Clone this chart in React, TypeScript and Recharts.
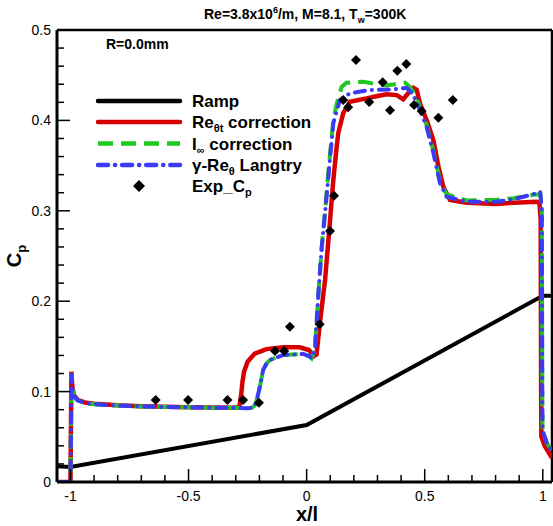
import React from 'react';
import {
  ComposedChart,
  Line,
  Scatter,
  XAxis,
  YAxis,
  ReferenceLine,
  Legend,
  Customized,
} from 'recharts';

// ---------- data ----------
const rampData = [
  { x: -1.057, y: 0.0175 },
  { x: -1.0, y: 0.0166 },
  { x: 0.0, y: 0.063 },
  { x: 1.0, y: 0.206 },
  { x: 1.039, y: 0.206 },
];

const reThetaData = [
  { x: -1.055, y: 0.0 }, { x: -1.0, y: 0.0 }, { x: -0.998, y: 0.06 }, { x: -0.996, y: 0.122 },
  { x: -0.992, y: 0.105 }, { x: -0.985, y: 0.096 }, { x: -0.97, y: 0.091 }, { x: -0.94, y: 0.088 },
  { x: -0.9, y: 0.0865 }, { x: -0.8, y: 0.0848 }, { x: -0.7, y: 0.0838 }, { x: -0.6, y: 0.0832 },
  { x: -0.5, y: 0.0828 }, { x: -0.4, y: 0.0824 }, { x: -0.3, y: 0.0822 }, { x: -0.285, y: 0.0835 },
  { x: -0.278, y: 0.095 }, { x: -0.272, y: 0.11 }, { x: -0.265, y: 0.122 }, { x: -0.25, y: 0.133 },
  { x: -0.22, y: 0.142 }, { x: -0.17, y: 0.147 }, { x: -0.1, y: 0.149 }, { x: -0.03, y: 0.149 },
  { x: 0.01, y: 0.146 }, { x: 0.03, y: 0.139 }, { x: 0.042, y: 0.141 }, { x: 0.056, y: 0.1755 },
  { x: 0.078, y: 0.2235 }, { x: 0.096, y: 0.279 }, { x: 0.113, y: 0.334 }, { x: 0.125, y: 0.365 },
  { x: 0.134, y: 0.386 }, { x: 0.155, y: 0.408 }, { x: 0.183, y: 0.4207 }, { x: 0.254, y: 0.4244 },
  { x: 0.3, y: 0.427 }, { x: 0.339, y: 0.4288 }, { x: 0.381, y: 0.428 }, { x: 0.409, y: 0.4234 },
  { x: 0.43, y: 0.43 }, { x: 0.452, y: 0.436 }, { x: 0.466, y: 0.434 }, { x: 0.48, y: 0.419 },
  { x: 0.508, y: 0.4004 }, { x: 0.537, y: 0.378 }, { x: 0.558, y: 0.349 }, { x: 0.579, y: 0.3267 },
  { x: 0.607, y: 0.312 }, { x: 0.678, y: 0.309 }, { x: 0.805, y: 0.3075 }, { x: 0.876, y: 0.309 },
  { x: 0.975, y: 0.31 }, { x: 0.986, y: 0.309 }, { x: 0.991, y: 0.29 }, { x: 0.992, y: 0.2 },
  { x: 0.993, y: 0.1 }, { x: 0.994, y: 0.05 }, { x: 1.008, y: 0.04 }, { x: 1.022, y: 0.034 },
  { x: 1.038, y: 0.027 },
];

const iInfData = [
  { x: -1.055, y: 0.0 }, { x: -1.0, y: 0.0 }, { x: -0.998, y: 0.06 }, { x: -0.996, y: 0.12 },
  { x: -0.992, y: 0.104 }, { x: -0.985, y: 0.095 }, { x: -0.97, y: 0.0905 }, { x: -0.94, y: 0.0875 },
  { x: -0.9, y: 0.086 }, { x: -0.8, y: 0.0845 }, { x: -0.7, y: 0.0835 }, { x: -0.6, y: 0.083 },
  { x: -0.5, y: 0.0826 }, { x: -0.4, y: 0.0822 }, { x: -0.3, y: 0.082 }, { x: -0.254, y: 0.0815 },
  { x: -0.232, y: 0.082 }, { x: -0.218, y: 0.085 }, { x: -0.21, y: 0.092 }, { x: -0.198, y: 0.1054 },
  { x: -0.184, y: 0.124 }, { x: -0.17, y: 0.131 }, { x: -0.155, y: 0.135 }, { x: -0.099, y: 0.1405 },
  { x: -0.014, y: 0.1416 }, { x: 0.012, y: 0.139 }, { x: 0.021, y: 0.1368 }, { x: 0.035, y: 0.146 },
  { x: 0.049, y: 0.205 }, { x: 0.064, y: 0.26 }, { x: 0.078, y: 0.3 }, { x: 0.096, y: 0.355 },
  { x: 0.113, y: 0.4 }, { x: 0.127, y: 0.418 }, { x: 0.148, y: 0.437 }, { x: 0.169, y: 0.4417 },
  { x: 0.24, y: 0.4428 }, { x: 0.3, y: 0.44 }, { x: 0.339, y: 0.439 }, { x: 0.38, y: 0.44 },
  { x: 0.417, y: 0.4417 }, { x: 0.438, y: 0.437 }, { x: 0.46, y: 0.428 }, { x: 0.48, y: 0.415 },
  { x: 0.508, y: 0.395 }, { x: 0.537, y: 0.366 }, { x: 0.565, y: 0.333 }, { x: 0.593, y: 0.318 },
  { x: 0.678, y: 0.3115 }, { x: 0.8, y: 0.312 }, { x: 0.876, y: 0.314 }, { x: 0.967, y: 0.318 },
  { x: 0.99, y: 0.318 }, { x: 0.996, y: 0.3 }, { x: 0.997, y: 0.2 }, { x: 0.998, y: 0.1 },
  { x: 0.999, y: 0.058 }, { x: 1.017, y: 0.043 }, { x: 1.038, y: 0.035 },
];

const langtryData = [
  { x: -1.055, y: 0.0 }, { x: -1.0, y: 0.0 }, { x: -0.998, y: 0.06 }, { x: -0.996, y: 0.12 },
  { x: -0.992, y: 0.104 }, { x: -0.985, y: 0.095 }, { x: -0.97, y: 0.0905 }, { x: -0.94, y: 0.0875 },
  { x: -0.9, y: 0.086 }, { x: -0.8, y: 0.0845 }, { x: -0.7, y: 0.0835 }, { x: -0.6, y: 0.083 },
  { x: -0.5, y: 0.0826 }, { x: -0.4, y: 0.0822 }, { x: -0.3, y: 0.082 }, { x: -0.254, y: 0.0815 },
  { x: -0.232, y: 0.082 }, { x: -0.218, y: 0.085 }, { x: -0.21, y: 0.092 }, { x: -0.198, y: 0.1054 },
  { x: -0.184, y: 0.124 }, { x: -0.17, y: 0.131 }, { x: -0.155, y: 0.135 }, { x: -0.099, y: 0.1405 },
  { x: -0.014, y: 0.1416 }, { x: 0.012, y: 0.139 }, { x: 0.021, y: 0.1368 }, { x: 0.035, y: 0.146 },
  { x: 0.049, y: 0.205 }, { x: 0.064, y: 0.26 }, { x: 0.078, y: 0.297 }, { x: 0.096, y: 0.349 },
  { x: 0.113, y: 0.397 }, { x: 0.141, y: 0.4226 }, { x: 0.183, y: 0.43 }, { x: 0.268, y: 0.4336 },
  { x: 0.367, y: 0.4344 }, { x: 0.424, y: 0.436 }, { x: 0.452, y: 0.428 }, { x: 0.48, y: 0.4115 },
  { x: 0.508, y: 0.393 }, { x: 0.537, y: 0.3636 }, { x: 0.565, y: 0.3304 }, { x: 0.593, y: 0.3156 },
  { x: 0.678, y: 0.31 }, { x: 0.8, y: 0.31 }, { x: 0.876, y: 0.3127 }, { x: 0.967, y: 0.319 },
  { x: 0.989, y: 0.321 }, { x: 0.996, y: 0.3 }, { x: 0.997, y: 0.2 }, { x: 0.998, y: 0.1 },
  { x: 0.999, y: 0.0575 }, { x: 1.017, y: 0.043 }, { x: 1.038, y: 0.035 },
];

const expData = [
  { x: -0.639, y: 0.0907 }, { x: -0.502, y: 0.0907 }, { x: -0.335, y: 0.0907 },
  { x: -0.269, y: 0.0907 }, { x: -0.202, y: 0.0877 }, { x: -0.134, y: 0.145 },
  { x: -0.095, y: 0.145 }, { x: -0.071, y: 0.1718 }, { x: 0.055, y: 0.1744 },
  { x: 0.099, y: 0.2777 }, { x: 0.116, y: 0.3167 }, { x: 0.155, y: 0.4226 },
  { x: 0.176, y: 0.4145 }, { x: 0.209, y: 0.4668 }, { x: 0.265, y: 0.4204 },
  { x: 0.322, y: 0.4421 }, { x: 0.353, y: 0.4112 }, { x: 0.384, y: 0.455 },
  { x: 0.422, y: 0.4624 }, { x: 0.455, y: 0.417 }, { x: 0.487, y: 0.4104 },
  { x: 0.558, y: 0.403 }, { x: 0.619, y: 0.4226 },
];

const xTicks = [-1, -0.9, -0.8, -0.7, -0.6, -0.5, -0.4, -0.3, -0.2, -0.1, 0, 0.1, 0.2, 0.3, 0.4, 0.5, 0.6, 0.7, 0.8, 0.9, 1];
const xLabelTicks = [-1, -0.5, 0, 0.5, 1];
const yTicks = [0, 0.02, 0.04, 0.06, 0.08, 0.1, 0.12, 0.14, 0.16, 0.18, 0.2, 0.22, 0.24, 0.26, 0.28, 0.3, 0.32, 0.34, 0.36, 0.38, 0.4, 0.42, 0.44, 0.46, 0.48, 0.5];
const yLabelTicks = [0, 0.1, 0.2, 0.3, 0.4, 0.5];

const FONT = '"Liberation Sans", Arial, Helvetica, sans-serif';
const RED = '#d60000';
const GREEN = '#1ec81e';
const BLUE = '#3b3bf7';
const GREEN_DASH = '15 8';
const BLUE_DASH = '10 7 0.1 7';

const isLabel = (v: number, list: number[]) => list.some((t) => Math.abs(t - v) < 1e-6);

const XTick = (props: any) => {
  const { x, y, payload } = props;
  const major = isLabel(payload.value, xLabelTicks);
  return (
    <g>
      <line x1={x} y1={y} x2={x} y2={y - (major ? 13 : 7)} stroke="#000" strokeWidth={1.5} />
      {major && (
        <text x={x} y={y + 19} textAnchor="middle" fontFamily={FONT} fontSize={14} fill="#000">
          {String(payload.value)}
        </text>
      )}
    </g>
  );
};

const YTick = (props: any) => {
  const { x, y, payload } = props;
  const major = isLabel(payload.value, yLabelTicks);
  return (
    <g>
      <line x1={x} y1={y} x2={x + (major ? 13 : 7)} y2={y} stroke="#000" strokeWidth={1.5} />
      {major && (
        <text x={x - 6} y={y + 5} textAnchor="end" fontFamily={FONT} fontSize={14} fill="#000">
          {String(payload.value)}
        </text>
      )}
    </g>
  );
};

const Diamond = (props: any) => {
  const { cx, cy } = props;
  const r = 5;
  return <polygon points={`${cx},${cy - r} ${cx + r},${cy} ${cx},${cy + r} ${cx - r},${cy}`} fill="#000" />;
};

const LegendContent = () => {
  const x1 = 98;
  const x2 = 180;
  const tx = 192;
  const rows = [101, 122, 143.5, 165, 186];
  const ts = { fontFamily: FONT, fontSize: 17, fontWeight: 700 as const, fill: '#000' };
  return (
    <svg width={553} height={210} style={{ display: 'block' }}>
      <line x1={x1} y1={rows[0]} x2={x2} y2={rows[0]} stroke="#000" strokeWidth={4.5} strokeLinecap="round" />
      <line x1={x1} y1={rows[1]} x2={x2} y2={rows[1]} stroke={RED} strokeWidth={4.5} strokeLinecap="round" />
      <line x1={x1} y1={rows[2]} x2={x2} y2={rows[2]} stroke={GREEN} strokeWidth={4.5} strokeDasharray={GREEN_DASH} />
      <line x1={x1} y1={rows[3]} x2={x2} y2={rows[3]} stroke={BLUE} strokeWidth={4.5} strokeDasharray={BLUE_DASH} strokeLinecap="round" />
      <polygon points={`139,${rows[4] - 6} 145,${rows[4]} 139,${rows[4] + 6} 133,${rows[4]}`} fill="#000" />
      <text x={tx} y={rows[0] + 6} {...ts}>Ramp</text>
      <text x={tx} y={rows[1] + 6} {...ts}>
        Re<tspan fontSize={11} dy={4}>θt</tspan><tspan dy={-4}> correction</tspan>
      </text>
      <text x={tx} y={rows[2] + 6} {...ts}>
        I<tspan fontSize={11} dy={4}>∞</tspan><tspan dy={-4}> correction</tspan>
      </text>
      <text x={tx} y={rows[3] + 6} {...ts}>
        γ-Re<tspan fontSize={11} dy={4}>θ</tspan><tspan dy={-4}> Langtry</tspan>
      </text>
      <text x={tx} y={rows[4] + 6} {...ts}>
        Exp_C<tspan fontSize={11} dy={4}>p</tspan>
      </text>
    </svg>
  );
};

const Annotations = () => (
  <g>
    <text x={204} y={19} fontFamily={FONT} fontSize={14} fontWeight={700} fill="#000">
      Re=3.8x10<tspan fontSize={9} dy={-6}>6</tspan><tspan dy={6}>/m, M=8.1, T</tspan>
      <tspan fontSize={9} dy={4}>w</tspan><tspan dy={-4}>=300K</tspan>
    </text>
    <text x={106} y={49} fontFamily={FONT} fontSize={14} fontWeight={700} fill="#000">
      R=0.0mm
    </text>
    <text
      x={0}
      y={0}
      transform="translate(21,256) rotate(-90)"
      textAnchor="middle"
      fontFamily={FONT}
      fontSize={20}
      fontWeight={700}
      fill="#000"
    >
      C<tspan fontSize={13} dy={5}>p</tspan>
    </text>
    <text x={307} y={521} textAnchor="middle" fontFamily={FONT} fontSize={20} fontWeight={700} fill="#000">
      x/l
    </text>
  </g>
);

export default function App() {
  return (
    <div style={{ position: 'absolute', left: 0, top: 0, width: 553, height: 526, background: '#fff' }}>
      <ComposedChart width={553} height={526} margin={{ top: 30, right: 1, bottom: 0, left: 0 }}>
        <XAxis
          type="number"
          dataKey="x"
          domain={[-1.057, 1.039]}
          ticks={xTicks}
          interval={0}
          allowDataOverflow
          height={44}
          tickSize={0}
          tickMargin={0}
          tickLine={false}
          axisLine={{ stroke: '#000', strokeWidth: 3 }}
          tick={<XTick />}
        />
        <YAxis
          type="number"
          dataKey="y"
          domain={[0, 0.5]}
          ticks={yTicks}
          interval={0}
          allowDataOverflow
          width={57}
          tickSize={0}
          tickMargin={0}
          tickLine={false}
          axisLine={{ stroke: '#000', strokeWidth: 3 }}
          tick={<YTick />}
        />
        <ReferenceLine y={0.5} stroke="#000" strokeWidth={2.5} ifOverflow="visible" />
        <ReferenceLine x={1.039} stroke="#000" strokeWidth={2.5} ifOverflow="visible" />
        <Line data={rampData} dataKey="y" type="linear" stroke="#000" strokeWidth={4} dot={false} isAnimationActive={false} legendType="none" />
        <Line data={reThetaData} dataKey="y" type="linear" stroke={RED} strokeWidth={4.5} dot={false} isAnimationActive={false} legendType="none" />
        <Line data={iInfData} dataKey="y" type="linear" stroke={GREEN} strokeWidth={4} strokeDasharray={GREEN_DASH} dot={false} isAnimationActive={false} legendType="none" />
        <Line data={langtryData} dataKey="y" type="linear" stroke={BLUE} strokeWidth={4} strokeDasharray={BLUE_DASH} strokeLinecap="round" dot={false} isAnimationActive={false} legendType="none" />
        <Scatter data={expData} dataKey="y" fill="#000" shape={<Diamond />} isAnimationActive={false} legendType="none" />
        <Legend
          layout="vertical"
          align="center"
          verticalAlign="middle"
          content={<LegendContent />}
          wrapperStyle={{ position: 'absolute', left: 0, top: 0, width: 553, height: 210, pointerEvents: 'none' }}
        />
        <Customized component={<Annotations />} />
      </ComposedChart>
    </div>
  );
}
